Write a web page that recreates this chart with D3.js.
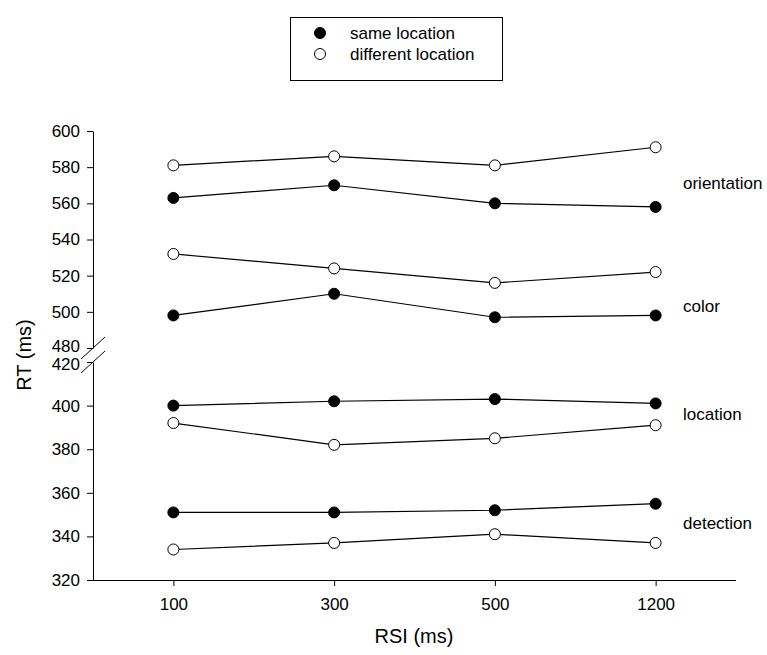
<!DOCTYPE html>
<html lang="en">
<head>
  <meta charset="utf-8" />
  <title>RT by RSI</title>
  <script src="https://d3js.org/d3.v7.min.js"></script>
  <style>
    html, body { margin: 0; padding: 0; background: #fff; }
    svg text { font-family: "Liberation Sans", Arial, sans-serif; fill: #000; }
    .axis path, .axis line { stroke: #000; stroke-width: 1; }
    .axis text { font-size: 17px; }
    .series { fill: none; stroke: #000; stroke-width: 1.2; }
  </style>
</head>
<body>
  <svg id="chart" width="767" height="655"></svg>
  <script>
    // data
    const rsi = ["100", "300", "500", "1200"];
    const topTicks = [480, 500, 520, 540, 560, 580, 600];
    const bottomTicks = [320, 340, 360, 380, 400, 420];

    const orientationSame = [563, 570, 560, 558];
    const orientationDiff = [581, 586, 581, 591];
    const colorSame = [498, 510, 497, 498];
    const colorDiff = [532, 524, 516, 522];
    const locationSame = [400, 402, 403, 401];
    const locationDiff = [392, 382, 385, 391];
    const detectionSame = [351, 351, 352, 355];
    const detectionDiff = [334, 337, 341, 337];

    const taskNames = ["orientation", "color", "location", "detection"];
    const legendLabels = ["same location", "different location"];

    const svg = d3.select("#chart");

    const x = d3.scalePoint().domain(rsi).range([93, 736]).padding(0.5);
    // broken y axis: two linear pieces
    const yTop = d3.scaleLinear().domain([480, 600]).range([348, 131]);
    const yBot = d3.scaleLinear().domain([320, 420]).range([580, 362]);

    // axes
    const gTop = svg.append("g").attr("class", "axis")
      .attr("transform", "translate(93,0)")
      .call(d3.axisLeft(yTop).tickValues(topTicks).tickSizeOuter(0).tickSizeInner(6).tickPadding(7));
    const gBot = svg.append("g").attr("class", "axis")
      .attr("transform", "translate(93,0)")
      .call(d3.axisLeft(yBot).tickValues(bottomTicks).tickSizeOuter(0).tickSizeInner(6).tickPadding(7));
    const gX = svg.append("g").attr("class", "axis")
      .attr("transform", "translate(0,580)")
      .call(d3.axisBottom(x).tickSizeOuter(0).tickSizeInner(6).tickPadding(12));

    // labels at the break sit tight together; nudge them apart a little
    gTop.selectAll(".tick text").filter(d => d === 480).attr("y", -2);
    gBot.selectAll(".tick text").filter(d => d === 420).attr("y", 2);

    // stretch x axis domain line over the whole width
    gX.select(".domain").attr("d", "M93,0.5H736");

    // axis break marks
    [yTop(480), yBot(420)].forEach(yy => {
      svg.append("line")
        .attr("x1", 93 - 12).attr("y1", yy + 11)
        .attr("x2", 93 + 12).attr("y2", yy - 11)
        .attr("stroke", "#000").attr("stroke-width", 1);
    });

    // series
    const series = [
      { vals: orientationDiff, y: yTop, filled: false },
      { vals: orientationSame, y: yTop, filled: true },
      { vals: colorDiff, y: yTop, filled: false },
      { vals: colorSame, y: yTop, filled: true },
      { vals: locationSame, y: yBot, filled: true },
      { vals: locationDiff, y: yBot, filled: false },
      { vals: detectionSame, y: yBot, filled: true },
      { vals: detectionDiff, y: yBot, filled: false }
    ];

    series.forEach(s => {
      const line = d3.line().x((d, i) => x(rsi[i])).y(d => s.y(d));
      svg.append("path").datum(s.vals).attr("class", "series").attr("d", line);
    });
    series.forEach(s => {
      svg.append("g").selectAll("circle").data(s.vals).join("circle")
        .attr("cx", (d, i) => x(rsi[i]))
        .attr("cy", d => s.y(d))
        .attr("r", 5.5)
        .attr("fill", s.filled ? "#000" : "#fff")
        .attr("stroke", "#000").attr("stroke-width", 1);
    });

    // task labels on the right
    const taskY = [yTop(571), yTop(503), yBot(396), yBot(346)];
    taskNames.forEach((t, i) => {
      svg.append("text").attr("x", 683).attr("y", taskY[i])
        .attr("dy", "0.35em").style("font-size", "17px").text(t);
    });

    // axis titles
    svg.append("text")
      .attr("transform", "translate(31,355) rotate(-90)")
      .attr("text-anchor", "middle").style("font-size", "20px").text("RT (ms)");
    svg.append("text")
      .attr("x", 414).attr("y", 643)
      .attr("text-anchor", "middle").style("font-size", "20px").text("RSI (ms)");

    // legend
    svg.append("rect").attr("x", 290.5).attr("y", 17.5).attr("width", 212).attr("height", 63)
      .attr("fill", "#fff").attr("stroke", "#000").attr("stroke-width", 1);
    legendLabels.forEach((l, i) => {
      const ly = 33 + i * 21;
      svg.append("circle").attr("cx", 320).attr("cy", ly).attr("r", 5.5)
        .attr("fill", i === 0 ? "#000" : "#fff").attr("stroke", "#000");
      svg.append("text").attr("x", 350).attr("y", ly).attr("dy", "0.35em")
        .style("font-size", "17px").text(l);
    });
  </script>
</body>
</html>
